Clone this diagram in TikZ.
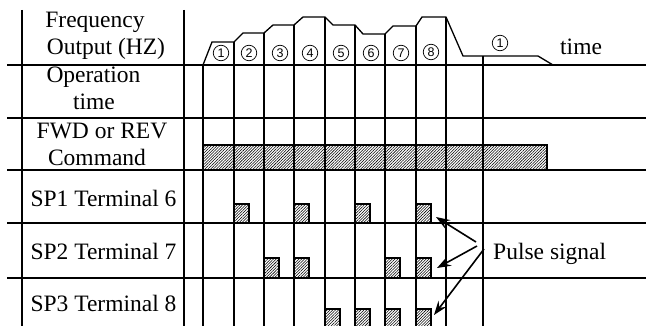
\documentclass[tikz,border=0pt]{standalone}
\usepackage{fontspec}
\setmainfont{Liberation Serif}
\newfontfamily\numfont{Liberation Sans}
\usetikzlibrary{patterns.meta,arrows.meta}
\begin{document}
\begin{tikzpicture}[x=1pt,y=-1pt,
  gridline/.style={line width=1.3pt},
  lbl/.style={anchor=base,font=\fontsize{23.5}{24}\selectfont,inner sep=0},
  num/.style={circle,draw,line width=0.7pt,minimum size=15.5pt,inner sep=0,
    font=\numfont\fontsize{12.5}{12.5}\selectfont},
  hatch/.style={pattern={Lines[angle=45,distance=2pt,line width=0.55pt]}},
  pulsebox/.style={hatch,draw,line width=1.3pt},
  arr/.style={line width=1.6pt,-{Stealth[length=14pt,width=10pt,inset=5pt]}}
]
\useasboundingbox (0,0) rectangle (646,326);
% command bar and pulses
\draw[pulsebox] (203,145) rectangle (547,170);
\foreach \x in {234,294,355,416} \draw[pulsebox] (\x,204) rectangle ++(15,19);
\foreach \x in {264,294,385,416} \draw[pulsebox] (\x,258) rectangle ++(15,20);
\foreach \x in {325,355,385,416} \draw[pulsebox] (\x,309) rectangle ++(15,19);
% grid
\foreach \y in {65,118,170,223,278} \draw[gridline] (7,\y) -- (646,\y);
\draw[gridline] (22,10) -- (22,326);
\draw[gridline] (184,10) -- (184,326);
\foreach \x/\y in {203/65,234/42,264/33,294/25,325/17,355/25,385/34,416/26,446/17,483/56}
  \draw[gridline] (\x,\y) -- (\x,326);
% frequency curve
\draw[gridline,line join=miter] (203,65) -- (212,42) -- (234,42) -- (243,33) -- (264,33) -- (273,25)
  -- (294,25) -- (303,17) -- (325,17) -- (333,25) -- (355,25) -- (363,34) -- (385,34)
  -- (393,26) -- (416,26) -- (422,17) -- (446,17) -- (463,56) -- (538,56) -- (553,65);
% step numbers
\node[num] (n1) at (221,53) {1};
\node[num] (n2) at (249,53) {2};
\node[num] (n3) at (280,53) {3};
\node[num] (n4) at (310,53) {4};
\node[num] (n5) at (341,53) {5};
\node[num] (n6) at (371,53) {6};
\node[num] (n7) at (401,53) {7};
\node[num] (n8) at (431,52) {8};
\node[num] (n9) at (500,43) {1};
\node[lbl,anchor=base west] (tm) at (560,55) {time};
% left labels
\node[lbl] (f1) at (95,28) {Frequency};
\node[lbl] (f2) at (106,55) {Output (HZ)};
\node[lbl] (o1) at (93.5,83) {Operation};
\node[lbl] (o2) at (94,110) {time};
\node[lbl] (c1) at (102,139) {FWD or REV};
\node[lbl] (c2) at (97,166) {Command};
\node[lbl] (s1) at (103.5,207) {SP1 Terminal 6};
\node[lbl] (s2) at (103.5,260) {SP2 Terminal 7};
\node[lbl] (s3) at (103.5,312) {SP3 Terminal 8};
% pulse signal
\node[lbl,anchor=base west] (ps) at (493,260) {Pulse signal};
\coordinate (a1s) at (476,242);
\coordinate (a1e) at (436,217);
\coordinate (a2s) at (477,246);
\coordinate (a2e) at (437,268);
\coordinate (a3s) at (484,249);
\coordinate (a3e) at (434,315);
\draw[arr] (a1s) -- (a1e);
\draw[arr] (a2s) -- (a2e);
\draw[arr] (a3s) -- (a3e);
\end{tikzpicture}
\end{document}
